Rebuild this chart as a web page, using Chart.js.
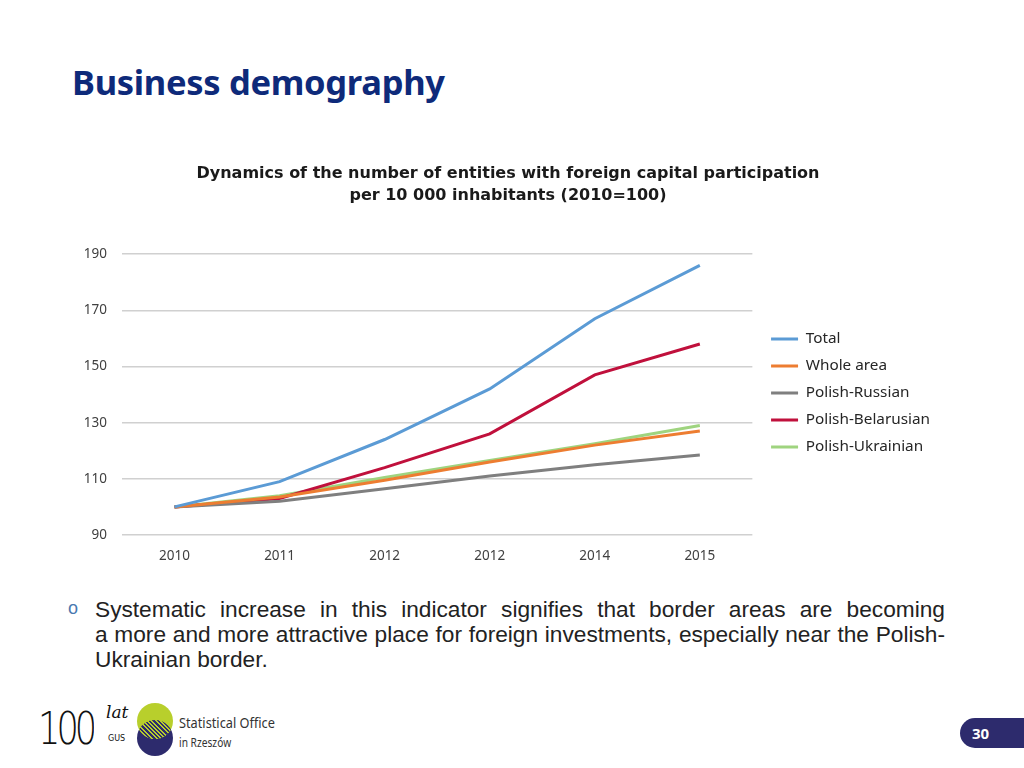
<!DOCTYPE html>
<html>
<head>
<meta charset="utf-8">
<script src="https://cdn.jsdelivr.net/npm/chart.js@4"></script>
<style>
  body { margin: 0; width: 1024px; height: 768px; background: #fff; position: relative; overflow: hidden; font-family: "Noto Sans", sans-serif; }
  #title { position: absolute; left: 72px; top: 65px; font: bold 34.5px "Noto Sans", sans-serif; line-height: 1; color: #0e2a7a; letter-spacing: -0.3px; }
  #wrap { position: absolute; left: 60px; top: 150px; width: 900px; height: 420px; }
  #note { position: absolute; left: 95px; top: 597px; width: 850px; font: 22.7px "Liberation Sans", Arial, sans-serif; line-height: 25px; color: #222; }
  #note span { display: block; text-align: justify; }
  #note span.j { text-align-last: justify; }
  #bullet { position: absolute; left: 68px; top: 598px; font: 18px "Liberation Sans", Arial, sans-serif; color: #4a78b0; }
  #hundred { position: absolute; left: 38px; top: 703px; font: 300 44px "DejaVu Sans", sans-serif; color: #111; letter-spacing: -5px; transform: scaleX(0.8); transform-origin: left; }
  #lat { position: absolute; left: 106px; top: 702px; font: italic 17px "DejaVu Serif", serif; color: #111; }
  #gus { position: absolute; left: 108px; top: 734px; font: 8px "DejaVu Sans", sans-serif; color: #111; }
  .circ { position: absolute; width: 36px; height: 36px; border-radius: 50%; }
  #c1 { left: 137px; top: 703px; background: #b8cf2c; overflow: hidden; }
  #c2 { left: 137px; top: 720px; background: #2d2b6d; }
  #hatch { position: absolute; left: 0; top: 17px; width: 36px; height: 36px; border-radius: 50%;
           background: repeating-linear-gradient(45deg, #2d2b6d 0 1.5px, #b8cf2c 1.5px 3px); }
  #office { position: absolute; left: 179px; top: 712px; font: 15px "Liberation Sans Narrow", "Noto Sans", sans-serif; color: #333; transform: scaleX(0.85); transform-origin: left; }
  #office2 { position: absolute; left: 179px; top: 734px; font: 12px "Liberation Sans Narrow", "Noto Sans", sans-serif; color: #333; transform: scaleX(0.85); transform-origin: left; }
  #page { position: absolute; left: 960px; top: 718px; width: 64px; height: 30px; background: #2d2b6d; border-radius: 15px 0 0 15px; color: #fff; font: bold 15px "Noto Sans", sans-serif; line-height: 30px; padding-left: 12px; box-sizing: border-box; }
</style>
</head>
<body>
<div id="title">Business demography</div>
<div id="wrap"><canvas id="chart"></canvas></div>
<div id="bullet">o</div>
<div id="note"><span class="j">Systematic increase in this indicator signifies that border areas are becoming</span><span class="j">a more and more attractive place for foreign investments, especially near the Polish-</span><span>Ukrainian border.</span></div>
<div id="hundred">100</div>
<div id="lat">lat</div>
<div id="gus">GUS</div>
<div class="circ" id="c2"></div>
<div class="circ" id="c1"><div id="hatch"></div></div>
<div id="office">Statistical Office</div>
<div id="office2">in Rzeszów</div>
<div id="page">30</div>
<script>
const years = ["2010", "2011", "2012", "2012", "2014", "2015"];
const total = [100, 109, 124, 142, 167, 186];
const wholeArea = [100, 103.5, 109.5, 116, 122, 127];
const polishRussian = [100, 102, 106.5, 111, 115, 118.5];
const polishBelarusian = [100, 103, 114, 126, 147, 158];
const polishUkrainian = [100, 104, 110.5, 116.5, 122.5, 129];
const yTicks = [90, 110, 130, 150, 170, 190];

const tickColor = "#404040";
const line = (label, data, color) => ({
    label: label,
    data: data,
    borderColor: color,
    backgroundColor: color,
    borderWidth: 3,
    pointRadius: 0,
    tension: 0,
    fill: false,
});

// nudge legend and title boxes, like the original slide
const boxShift = {
    id: "boxShift",
    beforeDraw(chart) {
        const lg = chart.legend;
        lg.left += 7;
        lg.right += 27;
        lg.top += 33;
        lg.bottom += 33;
        chart.titleBlock.left += 11.5;
        chart.titleBlock.right += 11.5;
    },
};

new Chart(document.getElementById("chart"), {
    type: "line",
    data: {
        labels: years,
        datasets: [
            line("Total", total, "#5b9bd5"),
            line("Whole area", wholeArea, "#ed7d31"),
            line("Polish-Russian", polishRussian, "#7f7f7f"),
            line("Polish-Belarusian", polishBelarusian, "#c0103c"),
            line("Polish-Ukrainian", polishUkrainian, "#9fd47f"),
        ],
    },
    plugins: [boxShift],
    options: {
        responsive: true,
        maintainAspectRatio: false,
        animation: false,
        layout: { padding: { left: 0, right: 27, top: 0, bottom: 0 } },
        plugins: {
            title: {
                display: true,
                text: ["Dynamics of the number of entities with foreign capital participation", "per 10 000 inhabitants (2010=100)"],
                color: "#1a1a1a",
                font: { family: "DejaVu Sans", size: 16, weight: "bold", lineHeight: 1.38 },
                padding: { top: 13, bottom: 47 },
            },
            legend: {
                position: "right",
                labels: {
                    usePointStyle: true,
                    pointStyle: "line",
                    pointStyleWidth: 27,
                    boxWidth: 27,
                    padding: 11.7,
                    color: "#262626",
                    font: { family: "Noto Sans", size: 15.3 },
                },
            },
            tooltip: { enabled: false },
        },
        scales: {
            x: {
                offset: true,
                grid: { display: false, drawTicks: false },
                border: { display: false },
                ticks: { color: tickColor, padding: 13, font: { family: "Noto Sans", size: 13.5 } },
                afterFit: (s) => { s.height = 35; },
            },
            y: {
                min: 90,
                max: 190,
                afterBuildTicks: (s) => { s.ticks = yTicks.map((v) => ({ value: v })); },
                grid: { color: "#d0d0d0", lineWidth: 1.5, drawTicks: false },
                border: { display: false },
                ticks: { color: tickColor, padding: 15, font: { family: "Noto Sans", size: 13.5 } },
                afterFit: (s) => { s.width = 62; },
            },
        },
    },
});
</script>
</body>
</html>
